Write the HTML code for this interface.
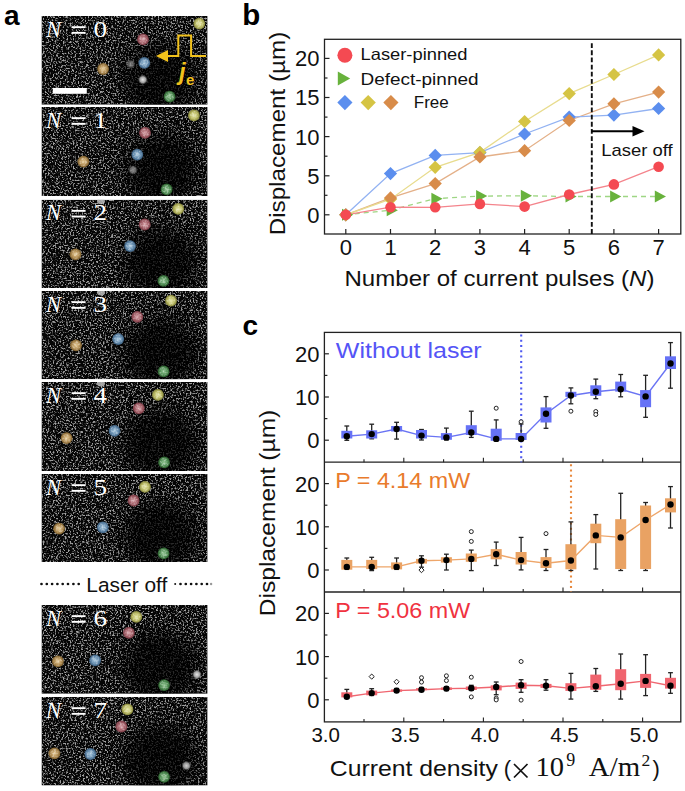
<!DOCTYPE html>
<html><head><meta charset="utf-8"><style>
html,body{margin:0;padding:0;background:#fff;}
svg{display:block;}
</style></head><body>
<svg width="685" height="791" viewBox="0 0 685 791">
<rect width="685" height="791" fill="#fff"/>
<defs>
<filter id="noise" x="0" y="0" width="100%" height="100%"><feTurbulence type="fractalNoise" baseFrequency="0.6" numOctaves="3" seed="3"/><feColorMatrix type="matrix" values="0 0 0 0 0  0 0 0 0 0  0 0 0 0 0  5 0 0 0 -2.5"/><feGaussianBlur stdDeviation="0.35"/><feComposite in="SourceGraphic" operator="in"/></filter>
<filter id="noise2" x="0" y="0" width="100%" height="100%"><feTurbulence type="fractalNoise" baseFrequency="0.55" numOctaves="1" seed="7"/><feColorMatrix type="matrix" values="0 0 0 0 0  0 0 0 0 0  0 0 0 0 0  4 0 0 0 -1.7"/><feComposite in="SourceGraphic" operator="in"/></filter>
<filter id="blur8" x="-50%" y="-50%" width="200%" height="200%"><feGaussianBlur stdDeviation="9"/></filter>
<filter id="blur12" x="-50%" y="-50%" width="200%" height="200%"><feGaussianBlur stdDeviation="14"/></filter>
<filter id="soft" x="-50%" y="-50%" width="200%" height="200%"><feGaussianBlur stdDeviation="0.7"/></filter>
<radialGradient id="gy" cx="0.5" cy="0.5" r="0.5"><stop offset="0" stop-color="#e6e6aa"/><stop offset="0.55" stop-color="#c0c068"/><stop offset="1" stop-color="#84843a"/></radialGradient>
<radialGradient id="gp" cx="0.5" cy="0.5" r="0.5"><stop offset="0" stop-color="#d8a4aa"/><stop offset="0.55" stop-color="#a8646c"/><stop offset="1" stop-color="#7a3a44"/></radialGradient>
<radialGradient id="gb" cx="0.5" cy="0.5" r="0.5"><stop offset="0" stop-color="#a8c8de"/><stop offset="0.55" stop-color="#6890b2"/><stop offset="1" stop-color="#3a5e80"/></radialGradient>
<radialGradient id="go" cx="0.5" cy="0.5" r="0.5"><stop offset="0" stop-color="#e6cc98"/><stop offset="0.55" stop-color="#b8945a"/><stop offset="1" stop-color="#7a5c2a"/></radialGradient>
<radialGradient id="gg" cx="0.5" cy="0.5" r="0.5"><stop offset="0" stop-color="#98c898"/><stop offset="0.55" stop-color="#56945a"/><stop offset="1" stop-color="#2a5e2c"/></radialGradient>
<radialGradient id="gw" cx="0.5" cy="0.5" r="0.5"><stop offset="0" stop-color="#e8e8e8"/><stop offset="0.6" stop-color="#a0a0a0"/><stop offset="1" stop-color="#505050" stop-opacity="0"/></radialGradient>
<clipPath id="cp0"><rect x="41.5" y="16" width="166.1" height="88.7"/></clipPath>
<clipPath id="cp1"><rect x="41.5" y="107" width="166.1" height="89.0"/></clipPath>
<clipPath id="cp2"><rect x="41.5" y="199.7" width="166.1" height="88.3"/></clipPath>
<clipPath id="cp3"><rect x="41.5" y="291" width="166.1" height="88.2"/></clipPath>
<clipPath id="cp4"><rect x="41.5" y="382" width="166.1" height="89.0"/></clipPath>
<clipPath id="cp5"><rect x="41.5" y="474" width="166.1" height="88.0"/></clipPath>
<clipPath id="cp6"><rect x="41.5" y="605" width="166.1" height="88.8"/></clipPath>
<clipPath id="cp7"><rect x="41.5" y="697" width="166.1" height="88.5"/></clipPath>
</defs>
<g clip-path="url(#cp0)">
<rect x="41.5" y="16" width="166.1" height="88.7" fill="#050505"/>
<rect x="41.5" y="16" width="166.1" height="88.7" fill="#a0a0a0" filter="url(#noise)"/>
<ellipse cx="160.5" cy="78" rx="38" ry="36" fill="#000" opacity="0.74" filter="url(#blur8)"/>
<circle cx="199.3" cy="23.6" r="5.9" fill="url(#gy)" filter="url(#soft)"/>
<circle cx="199.3" cy="23.6" r="4.5" fill="#fff" opacity="0.35" filter="url(#noise2)"/>
<circle cx="143" cy="39.4" r="5.9" fill="url(#gp)" filter="url(#soft)"/>
<circle cx="143" cy="39.4" r="4.5" fill="#fff" opacity="0.35" filter="url(#noise2)"/>
<circle cx="144.3" cy="62.9" r="5.9" fill="url(#gb)" filter="url(#soft)"/>
<circle cx="144.3" cy="62.9" r="4.5" fill="#fff" opacity="0.35" filter="url(#noise2)"/>
<circle cx="103.1" cy="69" r="5.9" fill="url(#go)" filter="url(#soft)"/>
<circle cx="103.1" cy="69" r="4.5" fill="#fff" opacity="0.35" filter="url(#noise2)"/>
<circle cx="169.6" cy="96.6" r="5.9" fill="url(#gg)" filter="url(#soft)"/>
<circle cx="169.6" cy="96.6" r="4.5" fill="#fff" opacity="0.35" filter="url(#noise2)"/>
<circle cx="142.8" cy="79.7" r="5" fill="url(#gw)" opacity="1"/>
<circle cx="130.7" cy="64.1" r="5" fill="url(#gw)" opacity="0.5"/>
</g>
<text y="36.6" font-size="22.5" fill="#fff" font-family='"Liberation Serif", serif' font-style="italic" x="46.1">N</text>
<rect x="71.6" y="26.2" width="14" height="1.9" fill="#fff"/><rect x="71.6" y="31.9" width="14" height="1.9" fill="#fff"/>
<text y="36.5" font-size="22.5" fill="#fff" font-family='"Liberation Serif", serif' x="93.6" textLength="13.6" lengthAdjust="spacingAndGlyphs">0</text>
<g clip-path="url(#cp1)">
<rect x="41.5" y="107" width="166.1" height="89.0" fill="#050505"/>
<rect x="41.5" y="107" width="166.1" height="89.0" fill="#a0a0a0" filter="url(#noise)"/>
<ellipse cx="160.5" cy="169" rx="38" ry="36" fill="#000" opacity="0.74" filter="url(#blur8)"/>
<circle cx="193.9" cy="115.4" r="5.9" fill="url(#gy)" filter="url(#soft)"/>
<circle cx="193.9" cy="115.4" r="4.5" fill="#fff" opacity="0.35" filter="url(#noise2)"/>
<circle cx="145" cy="132.8" r="5.9" fill="url(#gp)" filter="url(#soft)"/>
<circle cx="145" cy="132.8" r="4.5" fill="#fff" opacity="0.35" filter="url(#noise2)"/>
<circle cx="137.3" cy="154.6" r="5.9" fill="url(#gb)" filter="url(#soft)"/>
<circle cx="137.3" cy="154.6" r="4.5" fill="#fff" opacity="0.35" filter="url(#noise2)"/>
<circle cx="83.4" cy="161.6" r="5.9" fill="url(#go)" filter="url(#soft)"/>
<circle cx="83.4" cy="161.6" r="4.5" fill="#fff" opacity="0.35" filter="url(#noise2)"/>
<circle cx="166.6" cy="189.4" r="5.9" fill="url(#gg)" filter="url(#soft)"/>
<circle cx="166.6" cy="189.4" r="4.5" fill="#fff" opacity="0.35" filter="url(#noise2)"/>
<circle cx="133" cy="170" r="5" fill="url(#gw)" opacity="0.6"/>
</g>
<text y="127.6" font-size="22.5" fill="#fff" font-family='"Liberation Serif", serif' font-style="italic" x="46.1">N</text>
<rect x="71.6" y="117.2" width="14" height="1.9" fill="#fff"/><rect x="71.6" y="122.9" width="14" height="1.9" fill="#fff"/>
<text y="127.5" font-size="22.5" fill="#fff" font-family='"Liberation Serif", serif' x="93.6" textLength="13.6" lengthAdjust="spacingAndGlyphs">1</text>
<g clip-path="url(#cp2)">
<rect x="41.5" y="199.7" width="166.1" height="88.3" fill="#050505"/>
<rect x="41.5" y="199.7" width="166.1" height="88.3" fill="#a0a0a0" filter="url(#noise)"/>
<ellipse cx="160.5" cy="261.7" rx="38" ry="36" fill="#000" opacity="0.74" filter="url(#blur8)"/>
<circle cx="178.2" cy="208.9" r="5.9" fill="url(#gy)" filter="url(#soft)"/>
<circle cx="178.2" cy="208.9" r="4.5" fill="#fff" opacity="0.35" filter="url(#noise2)"/>
<circle cx="144.7" cy="224.5" r="5.9" fill="url(#gp)" filter="url(#soft)"/>
<circle cx="144.7" cy="224.5" r="4.5" fill="#fff" opacity="0.35" filter="url(#noise2)"/>
<circle cx="130.1" cy="246.1" r="5.9" fill="url(#gb)" filter="url(#soft)"/>
<circle cx="130.1" cy="246.1" r="4.5" fill="#fff" opacity="0.35" filter="url(#noise2)"/>
<circle cx="75.5" cy="254.3" r="5.9" fill="url(#go)" filter="url(#soft)"/>
<circle cx="75.5" cy="254.3" r="4.5" fill="#fff" opacity="0.35" filter="url(#noise2)"/>
<circle cx="163.4" cy="280.9" r="5.9" fill="url(#gg)" filter="url(#soft)"/>
<circle cx="163.4" cy="280.9" r="4.5" fill="#fff" opacity="0.35" filter="url(#noise2)"/>
<ellipse cx="101" cy="201.2" rx="4" ry="3" fill="#c8c8c8" opacity="0.8" filter="url(#soft)"/>
</g>
<text y="220.29999999999998" font-size="22.5" fill="#fff" font-family='"Liberation Serif", serif' font-style="italic" x="46.1">N</text>
<rect x="71.6" y="209.9" width="14" height="1.9" fill="#fff"/><rect x="71.6" y="215.6" width="14" height="1.9" fill="#fff"/>
<text y="220.2" font-size="22.5" fill="#fff" font-family='"Liberation Serif", serif' x="93.6" textLength="13.6" lengthAdjust="spacingAndGlyphs">2</text>
<g clip-path="url(#cp3)">
<rect x="41.5" y="291" width="166.1" height="88.2" fill="#050505"/>
<rect x="41.5" y="291" width="166.1" height="88.2" fill="#a0a0a0" filter="url(#noise)"/>
<ellipse cx="160.5" cy="353" rx="38" ry="36" fill="#000" opacity="0.74" filter="url(#blur8)"/>
<circle cx="171" cy="300.7" r="5.9" fill="url(#gy)" filter="url(#soft)"/>
<circle cx="171" cy="300.7" r="4.5" fill="#fff" opacity="0.35" filter="url(#noise2)"/>
<circle cx="137.3" cy="316.8" r="5.9" fill="url(#gp)" filter="url(#soft)"/>
<circle cx="137.3" cy="316.8" r="4.5" fill="#fff" opacity="0.35" filter="url(#noise2)"/>
<circle cx="118.2" cy="339.1" r="5.9" fill="url(#gb)" filter="url(#soft)"/>
<circle cx="118.2" cy="339.1" r="4.5" fill="#fff" opacity="0.35" filter="url(#noise2)"/>
<circle cx="76" cy="345.3" r="5.9" fill="url(#go)" filter="url(#soft)"/>
<circle cx="76" cy="345.3" r="4.5" fill="#fff" opacity="0.35" filter="url(#noise2)"/>
<circle cx="163.6" cy="371.4" r="5.9" fill="url(#gg)" filter="url(#soft)"/>
<circle cx="163.6" cy="371.4" r="4.5" fill="#fff" opacity="0.35" filter="url(#noise2)"/>
<ellipse cx="101" cy="292.5" rx="4" ry="3" fill="#c8c8c8" opacity="0.8" filter="url(#soft)"/>
</g>
<text y="311.6" font-size="22.5" fill="#fff" font-family='"Liberation Serif", serif' font-style="italic" x="46.1">N</text>
<rect x="71.6" y="301.2" width="14" height="1.9" fill="#fff"/><rect x="71.6" y="306.9" width="14" height="1.9" fill="#fff"/>
<text y="311.5" font-size="22.5" fill="#fff" font-family='"Liberation Serif", serif' x="93.6" textLength="13.6" lengthAdjust="spacingAndGlyphs">3</text>
<g clip-path="url(#cp4)">
<rect x="41.5" y="382" width="166.1" height="89.0" fill="#050505"/>
<rect x="41.5" y="382" width="166.1" height="89.0" fill="#a0a0a0" filter="url(#noise)"/>
<ellipse cx="160.5" cy="444" rx="38" ry="36" fill="#000" opacity="0.74" filter="url(#blur8)"/>
<circle cx="157.9" cy="394.9" r="5.9" fill="url(#gy)" filter="url(#soft)"/>
<circle cx="157.9" cy="394.9" r="4.5" fill="#fff" opacity="0.35" filter="url(#noise2)"/>
<circle cx="138.8" cy="408.3" r="5.9" fill="url(#gp)" filter="url(#soft)"/>
<circle cx="138.8" cy="408.3" r="4.5" fill="#fff" opacity="0.35" filter="url(#noise2)"/>
<circle cx="114.5" cy="430.9" r="5.9" fill="url(#gb)" filter="url(#soft)"/>
<circle cx="114.5" cy="430.9" r="4.5" fill="#fff" opacity="0.35" filter="url(#noise2)"/>
<circle cx="66.6" cy="438.1" r="5.9" fill="url(#go)" filter="url(#soft)"/>
<circle cx="66.6" cy="438.1" r="4.5" fill="#fff" opacity="0.35" filter="url(#noise2)"/>
<circle cx="164.1" cy="462.4" r="5.9" fill="url(#gg)" filter="url(#soft)"/>
<circle cx="164.1" cy="462.4" r="4.5" fill="#fff" opacity="0.35" filter="url(#noise2)"/>
<ellipse cx="101" cy="383.5" rx="4" ry="3" fill="#c8c8c8" opacity="0.8" filter="url(#soft)"/>
</g>
<text y="402.6" font-size="22.5" fill="#fff" font-family='"Liberation Serif", serif' font-style="italic" x="46.1">N</text>
<rect x="71.6" y="392.2" width="14" height="1.9" fill="#fff"/><rect x="71.6" y="397.9" width="14" height="1.9" fill="#fff"/>
<text y="402.5" font-size="22.5" fill="#fff" font-family='"Liberation Serif", serif' x="93.6" textLength="13.6" lengthAdjust="spacingAndGlyphs">4</text>
<g clip-path="url(#cp5)">
<rect x="41.5" y="474" width="166.1" height="88.0" fill="#050505"/>
<rect x="41.5" y="474" width="166.1" height="88.0" fill="#a0a0a0" filter="url(#noise)"/>
<ellipse cx="160.5" cy="536" rx="38" ry="36" fill="#000" opacity="0.74" filter="url(#blur8)"/>
<circle cx="145" cy="486.9" r="5.9" fill="url(#gy)" filter="url(#soft)"/>
<circle cx="145" cy="486.9" r="4.5" fill="#fff" opacity="0.35" filter="url(#noise2)"/>
<circle cx="133.6" cy="500.5" r="5.9" fill="url(#gp)" filter="url(#soft)"/>
<circle cx="133.6" cy="500.5" r="4.5" fill="#fff" opacity="0.35" filter="url(#noise2)"/>
<circle cx="102.8" cy="527.3" r="5.9" fill="url(#gb)" filter="url(#soft)"/>
<circle cx="102.8" cy="527.3" r="4.5" fill="#fff" opacity="0.35" filter="url(#noise2)"/>
<circle cx="59.1" cy="528.6" r="5.9" fill="url(#go)" filter="url(#soft)"/>
<circle cx="59.1" cy="528.6" r="4.5" fill="#fff" opacity="0.35" filter="url(#noise2)"/>
<circle cx="163.6" cy="553.4" r="5.9" fill="url(#gg)" filter="url(#soft)"/>
<circle cx="163.6" cy="553.4" r="4.5" fill="#fff" opacity="0.35" filter="url(#noise2)"/>
</g>
<text y="494.6" font-size="22.5" fill="#fff" font-family='"Liberation Serif", serif' font-style="italic" x="46.1">N</text>
<rect x="71.6" y="484.2" width="14" height="1.9" fill="#fff"/><rect x="71.6" y="489.9" width="14" height="1.9" fill="#fff"/>
<text y="494.5" font-size="22.5" fill="#fff" font-family='"Liberation Serif", serif' x="93.6" textLength="13.6" lengthAdjust="spacingAndGlyphs">5</text>
<g clip-path="url(#cp6)">
<rect x="41.5" y="605" width="166.1" height="88.8" fill="#050505"/>
<rect x="41.5" y="605" width="166.1" height="88.8" fill="#a0a0a0" filter="url(#noise)"/>
<ellipse cx="160.5" cy="667" rx="38" ry="36" fill="#000" opacity="0.74" filter="url(#blur8)"/>
<circle cx="136.3" cy="616.9" r="5.9" fill="url(#gy)" filter="url(#soft)"/>
<circle cx="136.3" cy="616.9" r="4.5" fill="#fff" opacity="0.35" filter="url(#noise2)"/>
<circle cx="128.9" cy="632.8" r="5.9" fill="url(#gp)" filter="url(#soft)"/>
<circle cx="128.9" cy="632.8" r="4.5" fill="#fff" opacity="0.35" filter="url(#noise2)"/>
<circle cx="95.1" cy="660.3" r="5.9" fill="url(#gb)" filter="url(#soft)"/>
<circle cx="95.1" cy="660.3" r="4.5" fill="#fff" opacity="0.35" filter="url(#noise2)"/>
<circle cx="57.9" cy="661.3" r="5.9" fill="url(#go)" filter="url(#soft)"/>
<circle cx="57.9" cy="661.3" r="4.5" fill="#fff" opacity="0.35" filter="url(#noise2)"/>
<circle cx="164.1" cy="685.1" r="5.9" fill="url(#gg)" filter="url(#soft)"/>
<circle cx="164.1" cy="685.1" r="4.5" fill="#fff" opacity="0.35" filter="url(#noise2)"/>
<circle cx="196.9" cy="674.5" r="5" fill="url(#gw)" opacity="1"/>
</g>
<text y="625.6" font-size="22.5" fill="#fff" font-family='"Liberation Serif", serif' font-style="italic" x="46.1">N</text>
<rect x="71.6" y="615.2" width="14" height="1.9" fill="#fff"/><rect x="71.6" y="620.9" width="14" height="1.9" fill="#fff"/>
<text y="625.5" font-size="22.5" fill="#fff" font-family='"Liberation Serif", serif' x="93.6" textLength="13.6" lengthAdjust="spacingAndGlyphs">6</text>
<g clip-path="url(#cp7)">
<rect x="41.5" y="697" width="166.1" height="88.5" fill="#050505"/>
<rect x="41.5" y="697" width="166.1" height="88.5" fill="#a0a0a0" filter="url(#noise)"/>
<ellipse cx="160.5" cy="759" rx="38" ry="36" fill="#000" opacity="0.74" filter="url(#blur8)"/>
<circle cx="127.4" cy="709.4" r="5.9" fill="url(#gy)" filter="url(#soft)"/>
<circle cx="127.4" cy="709.4" r="4.5" fill="#fff" opacity="0.35" filter="url(#noise2)"/>
<circle cx="121.4" cy="726.5" r="5.9" fill="url(#gp)" filter="url(#soft)"/>
<circle cx="121.4" cy="726.5" r="4.5" fill="#fff" opacity="0.35" filter="url(#noise2)"/>
<circle cx="90.4" cy="754" r="5.9" fill="url(#gb)" filter="url(#soft)"/>
<circle cx="90.4" cy="754" r="4.5" fill="#fff" opacity="0.35" filter="url(#noise2)"/>
<circle cx="54.4" cy="753.3" r="5.9" fill="url(#go)" filter="url(#soft)"/>
<circle cx="54.4" cy="753.3" r="4.5" fill="#fff" opacity="0.35" filter="url(#noise2)"/>
<circle cx="164.1" cy="776.8" r="5.9" fill="url(#gg)" filter="url(#soft)"/>
<circle cx="164.1" cy="776.8" r="4.5" fill="#fff" opacity="0.35" filter="url(#noise2)"/>
<circle cx="186.4" cy="765.7" r="5" fill="url(#gw)" opacity="0.9"/>
</g>
<text y="717.6" font-size="22.5" fill="#fff" font-family='"Liberation Serif", serif' font-style="italic" x="46.1">N</text>
<rect x="71.6" y="707.2" width="14" height="1.9" fill="#fff"/><rect x="71.6" y="712.9" width="14" height="1.9" fill="#fff"/>
<text y="717.5" font-size="22.5" fill="#fff" font-family='"Liberation Serif", serif' x="93.6" textLength="13.6" lengthAdjust="spacingAndGlyphs">7</text>
<rect x="52.8" y="88" width="34" height="5.8" fill="#fff"/>
<path d="M206 56 H191.1 V35.5 H178.3 V56 H165" fill="none" stroke="#f2c21c" stroke-width="2"/>
<path d="M156 56 L168 50 L168 62 Z" fill="#f2c21c"/>
<text x="179" y="79.8" font-size="23.5" fill="#f2c21c" font-family='"Liberation Sans", sans-serif' font-style="italic" font-weight="bold">j</text>
<text x="186" y="84.8" font-size="15" fill="#f2c21c" font-family='"Liberation Sans", sans-serif' font-weight="bold">e</text>
<circle cx="41.5" cy="584" r="1.35" fill="#111"/>
<circle cx="46.8" cy="584" r="1.35" fill="#111"/>
<circle cx="52.1" cy="584" r="1.35" fill="#111"/>
<circle cx="57.4" cy="584" r="1.35" fill="#111"/>
<circle cx="62.7" cy="584" r="1.35" fill="#111"/>
<circle cx="68.0" cy="584" r="1.35" fill="#111"/>
<circle cx="73.4" cy="584" r="1.35" fill="#111"/>
<circle cx="78.7" cy="584" r="1.35" fill="#111"/>
<circle cx="175.2" cy="584" r="1.0" fill="#111"/>
<circle cx="180.5" cy="584" r="1.35" fill="#111"/>
<circle cx="185.8" cy="584" r="1.35" fill="#111"/>
<circle cx="191.1" cy="584" r="1.35" fill="#111"/>
<circle cx="196.4" cy="584" r="1.35" fill="#111"/>
<circle cx="201.7" cy="584" r="1.35" fill="#111"/>
<circle cx="207.0" cy="584" r="1.35" fill="#111"/>
<circle cx="211.1" cy="584" r="1.2" fill="#999"/>
<text x="86.3" y="591.8" font-size="20.5" fill="#111" text-anchor="start" font-family='"Liberation Sans", sans-serif' font-weight="normal" font-style="normal" textLength="81" lengthAdjust="spacingAndGlyphs" >Laser off</text>
<text x="4.0" y="24.5" font-size="28" fill="#000" text-anchor="start" font-family='"Liberation Sans", sans-serif' font-weight="bold" font-style="normal" >a</text>
<text x="242.3" y="24.5" font-size="29.5" fill="#000" text-anchor="start" font-family='"Liberation Sans", sans-serif' font-weight="bold" font-style="normal" >b</text>
<text x="242.5" y="334.5" font-size="28" fill="#000" text-anchor="start" font-family='"Liberation Sans", sans-serif' font-weight="bold" font-style="normal" >c</text>
<rect x="324.5" y="39.3" width="356.3" height="194.7" fill="none" stroke="#222" stroke-width="1.3"/>
<line x1="324.5" x2="329.5" y1="214.8" y2="214.8" stroke="#222" stroke-width="1.2"/>
<text x="319.5" y="222.8" font-size="22" fill="#111" text-anchor="end" font-family='"Liberation Sans", sans-serif' font-weight="normal" font-style="normal" >0</text>
<line x1="324.5" x2="329.5" y1="175.8" y2="175.8" stroke="#222" stroke-width="1.2"/>
<text x="319.5" y="183.7" font-size="22" fill="#111" text-anchor="end" font-family='"Liberation Sans", sans-serif' font-weight="normal" font-style="normal" >5</text>
<line x1="324.5" x2="329.5" y1="136.6" y2="136.6" stroke="#222" stroke-width="1.2"/>
<text x="319.5" y="144.5" font-size="22" fill="#111" text-anchor="end" font-family='"Liberation Sans", sans-serif' font-weight="normal" font-style="normal" >10</text>
<line x1="324.5" x2="329.5" y1="97.5" y2="97.5" stroke="#222" stroke-width="1.2"/>
<text x="319.5" y="105.4" font-size="22" fill="#111" text-anchor="end" font-family='"Liberation Sans", sans-serif' font-weight="normal" font-style="normal" >15</text>
<line x1="324.5" x2="329.5" y1="58.4" y2="58.4" stroke="#222" stroke-width="1.2"/>
<text x="319.5" y="66.3" font-size="22" fill="#111" text-anchor="end" font-family='"Liberation Sans", sans-serif' font-weight="normal" font-style="normal" >20</text>
<line x1="324.5" x2="327.5" y1="195.3" y2="195.3" stroke="#222" stroke-width="1.2"/>
<line x1="324.5" x2="327.5" y1="156.2" y2="156.2" stroke="#222" stroke-width="1.2"/>
<line x1="324.5" x2="327.5" y1="117.1" y2="117.1" stroke="#222" stroke-width="1.2"/>
<line x1="324.5" x2="327.5" y1="78.0" y2="78.0" stroke="#222" stroke-width="1.2"/>
<line x1="345.8" x2="345.8" y1="234.0" y2="229.0" stroke="#222" stroke-width="1.2"/>
<text x="345.8" y="254.8" font-size="22" fill="#111" text-anchor="middle" font-family='"Liberation Sans", sans-serif' font-weight="normal" font-style="normal" >0</text>
<line x1="390.5" x2="390.5" y1="234.0" y2="229.0" stroke="#222" stroke-width="1.2"/>
<text x="390.5" y="254.8" font-size="22" fill="#111" text-anchor="middle" font-family='"Liberation Sans", sans-serif' font-weight="normal" font-style="normal" >1</text>
<line x1="435.2" x2="435.2" y1="234.0" y2="229.0" stroke="#222" stroke-width="1.2"/>
<text x="435.2" y="254.8" font-size="22" fill="#111" text-anchor="middle" font-family='"Liberation Sans", sans-serif' font-weight="normal" font-style="normal" >2</text>
<line x1="479.9" x2="479.9" y1="234.0" y2="229.0" stroke="#222" stroke-width="1.2"/>
<text x="479.9" y="254.8" font-size="22" fill="#111" text-anchor="middle" font-family='"Liberation Sans", sans-serif' font-weight="normal" font-style="normal" >3</text>
<line x1="524.6" x2="524.6" y1="234.0" y2="229.0" stroke="#222" stroke-width="1.2"/>
<text x="524.6" y="254.8" font-size="22" fill="#111" text-anchor="middle" font-family='"Liberation Sans", sans-serif' font-weight="normal" font-style="normal" >4</text>
<line x1="569.2" x2="569.2" y1="234.0" y2="229.0" stroke="#222" stroke-width="1.2"/>
<text x="569.2" y="254.8" font-size="22" fill="#111" text-anchor="middle" font-family='"Liberation Sans", sans-serif' font-weight="normal" font-style="normal" >5</text>
<line x1="613.9" x2="613.9" y1="234.0" y2="229.0" stroke="#222" stroke-width="1.2"/>
<text x="613.9" y="254.8" font-size="22" fill="#111" text-anchor="middle" font-family='"Liberation Sans", sans-serif' font-weight="normal" font-style="normal" >6</text>
<line x1="658.6" x2="658.6" y1="234.0" y2="229.0" stroke="#222" stroke-width="1.2"/>
<text x="658.6" y="254.8" font-size="22" fill="#111" text-anchor="middle" font-family='"Liberation Sans", sans-serif' font-weight="normal" font-style="normal" >7</text>
<text x="344.5" y="285.6" font-size="21.5" fill="#111" font-family='"Liberation Sans", sans-serif' textLength="310" lengthAdjust="spacingAndGlyphs">Number of current pulses (<tspan font-style="italic">N</tspan>)</text>
<text transform="translate(285.2,235.3) rotate(-90)" x="0" y="0" font-size="21.5" fill="#111" font-family='"Liberation Sans", sans-serif' textLength="203.5" lengthAdjust="spacingAndGlyphs">Displacement (µm)</text>
<polyline points="345.8,214.8 390.5,210.2 435.2,198.7 479.9,196.1 524.6,195.8 569.2,196.5 613.9,196.5 658.6,196.5" fill="none" stroke="#9ed684" stroke-width="1.3" stroke-dasharray="5 4"/>
<polyline points="345.8,214.8 390.5,207.2 435.2,207.3 479.9,203.9 524.6,206.6 569.2,194.5 613.9,184.4 658.6,166.7" fill="none" stroke="#f4848c" stroke-width="1.3"/>
<polyline points="345.8,214.8 390.5,197.9 435.2,183.6 479.9,157.0 524.6,150.7 569.2,120.5 613.9,103.8 658.6,92.1" fill="none" stroke="#e4b088" stroke-width="1.3"/>
<polyline points="345.8,214.8 390.5,199.2 435.2,167.3 479.9,152.3 524.6,121.5 569.2,93.6 613.9,74.5 658.6,54.9" fill="none" stroke="#e8dc8e" stroke-width="1.3"/>
<polyline points="345.8,214.8 390.5,173.6 435.2,155.4 479.9,152.7 524.6,134.0 569.2,117.1 613.9,115.1 658.6,108.5" fill="none" stroke="#92b2f2" stroke-width="1.3"/>
<path d="M345.8 208.2 L352.4 214.8 L345.8 221.4 L339.2 214.8 Z" fill="#5b8eee"/>
<path d="M390.5 167.0 L397.1 173.6 L390.5 180.2 L383.9 173.6 Z" fill="#5b8eee"/>
<path d="M435.2 148.8 L441.8 155.4 L435.2 162.0 L428.6 155.4 Z" fill="#5b8eee"/>
<path d="M479.9 146.1 L486.5 152.7 L479.9 159.3 L473.3 152.7 Z" fill="#5b8eee"/>
<path d="M524.6 127.4 L531.2 134.0 L524.6 140.6 L518.0 134.0 Z" fill="#5b8eee"/>
<path d="M569.2 110.5 L575.9 117.1 L569.2 123.7 L562.6 117.1 Z" fill="#5b8eee"/>
<path d="M613.9 108.5 L620.5 115.1 L613.9 121.7 L607.3 115.1 Z" fill="#5b8eee"/>
<path d="M658.6 101.9 L665.2 108.5 L658.6 115.1 L652.0 108.5 Z" fill="#5b8eee"/>
<path d="M345.8 208.2 L352.4 214.8 L345.8 221.4 L339.2 214.8 Z" fill="#d5c444"/>
<path d="M390.5 192.6 L397.1 199.2 L390.5 205.8 L383.9 199.2 Z" fill="#d5c444"/>
<path d="M435.2 160.7 L441.8 167.3 L435.2 173.9 L428.6 167.3 Z" fill="#d5c444"/>
<path d="M479.9 145.7 L486.5 152.3 L479.9 158.9 L473.3 152.3 Z" fill="#d5c444"/>
<path d="M524.6 114.9 L531.2 121.5 L524.6 128.1 L518.0 121.5 Z" fill="#d5c444"/>
<path d="M569.2 87.0 L575.9 93.6 L569.2 100.2 L562.6 93.6 Z" fill="#d5c444"/>
<path d="M613.9 67.9 L620.5 74.5 L613.9 81.1 L607.3 74.5 Z" fill="#d5c444"/>
<path d="M658.6 48.3 L665.2 54.9 L658.6 61.5 L652.0 54.9 Z" fill="#d5c444"/>
<path d="M345.8 208.2 L352.4 214.8 L345.8 221.4 L339.2 214.8 Z" fill="#d88c4a"/>
<path d="M390.5 191.3 L397.1 197.9 L390.5 204.5 L383.9 197.9 Z" fill="#d88c4a"/>
<path d="M435.2 177.0 L441.8 183.6 L435.2 190.2 L428.6 183.6 Z" fill="#d88c4a"/>
<path d="M479.9 150.4 L486.5 157.0 L479.9 163.6 L473.3 157.0 Z" fill="#d88c4a"/>
<path d="M524.6 144.1 L531.2 150.7 L524.6 157.3 L518.0 150.7 Z" fill="#d88c4a"/>
<path d="M569.2 113.9 L575.9 120.5 L569.2 127.1 L562.6 120.5 Z" fill="#d88c4a"/>
<path d="M613.9 97.2 L620.5 103.8 L613.9 110.4 L607.3 103.8 Z" fill="#d88c4a"/>
<path d="M658.6 85.5 L665.2 92.1 L658.6 98.7 L652.0 92.1 Z" fill="#d88c4a"/>
<path d="M342.0 208.8 L353.2 214.8 L342.0 220.8 Z" fill="#68b23c"/>
<path d="M386.7 204.2 L397.9 210.2 L386.7 216.2 Z" fill="#68b23c"/>
<path d="M431.4 192.7 L442.6 198.7 L431.4 204.7 Z" fill="#68b23c"/>
<path d="M476.1 190.1 L487.3 196.1 L476.1 202.1 Z" fill="#68b23c"/>
<path d="M520.8 189.8 L532.0 195.8 L520.8 201.8 Z" fill="#68b23c"/>
<path d="M565.5 190.5 L576.6 196.5 L565.5 202.5 Z" fill="#68b23c"/>
<path d="M610.1 190.5 L621.3 196.5 L610.1 202.5 Z" fill="#68b23c"/>
<path d="M654.8 190.5 L666.0 196.5 L654.8 202.5 Z" fill="#68b23c"/>
<circle cx="345.8" cy="214.8" r="5.3" fill="#f44a52"/>
<circle cx="390.5" cy="207.2" r="5.3" fill="#f44a52"/>
<circle cx="435.2" cy="207.3" r="5.3" fill="#f44a52"/>
<circle cx="479.9" cy="203.9" r="5.3" fill="#f44a52"/>
<circle cx="524.6" cy="206.6" r="5.3" fill="#f44a52"/>
<circle cx="569.2" cy="194.5" r="5.3" fill="#f44a52"/>
<circle cx="613.9" cy="184.4" r="5.3" fill="#f44a52"/>
<circle cx="658.6" cy="166.7" r="5.3" fill="#f44a52"/>
<circle cx="344.9" cy="55.2" r="7.5" fill="#f44a52"/>
<path d="M337.8 71.5 L350.2 78.5 L337.8 85.5 Z" fill="#68b23c"/>
<path d="M344.9 95.0 L352.5 102.6 L344.9 110.2 L337.3 102.6 Z" fill="#5b8eee"/>
<path d="M368.2 95.0 L375.8 102.6 L368.2 110.2 L360.6 102.6 Z" fill="#d5c444"/>
<path d="M390.9 95.0 L398.5 102.6 L390.9 110.2 L383.3 102.6 Z" fill="#d88c4a"/>
<text x="360.5" y="59.6" font-size="16.5" fill="#111" text-anchor="start" font-family='"Liberation Sans", sans-serif' font-weight="normal" font-style="normal" textLength="107" lengthAdjust="spacingAndGlyphs" >Laser-pinned</text>
<text x="360.5" y="84.6" font-size="16.5" fill="#111" text-anchor="start" font-family='"Liberation Sans", sans-serif' font-weight="normal" font-style="normal" textLength="118" lengthAdjust="spacingAndGlyphs" >Defect-pinned</text>
<text x="413.8" y="107.8" font-size="16.5" fill="#111" text-anchor="start" font-family='"Liberation Sans", sans-serif' font-weight="normal" font-style="normal" textLength="35" lengthAdjust="spacingAndGlyphs" >Free</text>
<line x1="591.8" x2="591.8" y1="43.2" y2="234.0" stroke="#111" stroke-width="1.9" stroke-dasharray="4.8 2.35"/>
<line x1="591.5" x2="634" y1="131.3" y2="131.3" stroke="#000" stroke-width="2"/>
<path d="M644.5 131.3 L632.5 126 L632.5 136.6 Z" fill="#000"/>
<text x="601.2" y="156.0" font-size="17" fill="#111" text-anchor="start" font-family='"Liberation Sans", sans-serif' font-weight="normal" font-style="normal" textLength="71.5" lengthAdjust="spacingAndGlyphs" >Laser off</text>
<rect x="324.4" y="332.4" width="356.4" height="389.5" fill="none" stroke="#222" stroke-width="1.3"/>
<line x1="324.4" x2="680.8" y1="462.2" y2="462.2" stroke="#222" stroke-width="1.3"/>
<line x1="324.4" x2="680.8" y1="592.0" y2="592.0" stroke="#222" stroke-width="1.3"/>
<line x1="324.4" x2="328.9" y1="440.2" y2="440.2" stroke="#222" stroke-width="1.2"/>
<text x="319.5" y="448.1" font-size="22" fill="#111" text-anchor="end" font-family='"Liberation Sans", sans-serif' font-weight="normal" font-style="normal" >0</text>
<line x1="324.4" x2="328.9" y1="397.0" y2="397.0" stroke="#222" stroke-width="1.2"/>
<text x="319.5" y="404.9" font-size="22" fill="#111" text-anchor="end" font-family='"Liberation Sans", sans-serif' font-weight="normal" font-style="normal" >10</text>
<line x1="324.4" x2="328.9" y1="353.8" y2="353.8" stroke="#222" stroke-width="1.2"/>
<text x="319.5" y="361.7" font-size="22" fill="#111" text-anchor="end" font-family='"Liberation Sans", sans-serif' font-weight="normal" font-style="normal" >20</text>
<line x1="324.4" x2="327.4" y1="418.6" y2="418.6" stroke="#222" stroke-width="1.2"/>
<line x1="324.4" x2="327.4" y1="375.4" y2="375.4" stroke="#222" stroke-width="1.2"/>
<line x1="364.0" x2="364.0" y1="462.2" y2="459.2" stroke="#222" stroke-width="1.1"/>
<line x1="403.8" x2="403.8" y1="462.2" y2="457.7" stroke="#222" stroke-width="1.1"/>
<line x1="443.6" x2="443.6" y1="462.2" y2="459.2" stroke="#222" stroke-width="1.1"/>
<line x1="483.4" x2="483.4" y1="462.2" y2="457.7" stroke="#222" stroke-width="1.1"/>
<line x1="523.2" x2="523.2" y1="462.2" y2="459.2" stroke="#222" stroke-width="1.1"/>
<line x1="563.0" x2="563.0" y1="462.2" y2="457.7" stroke="#222" stroke-width="1.1"/>
<line x1="602.8" x2="602.8" y1="462.2" y2="459.2" stroke="#222" stroke-width="1.1"/>
<line x1="642.6" x2="642.6" y1="462.2" y2="457.7" stroke="#222" stroke-width="1.1"/>
<line x1="324.4" x2="328.9" y1="570.0" y2="570.0" stroke="#222" stroke-width="1.2"/>
<text x="319.5" y="577.9" font-size="22" fill="#111" text-anchor="end" font-family='"Liberation Sans", sans-serif' font-weight="normal" font-style="normal" >0</text>
<line x1="324.4" x2="328.9" y1="526.8" y2="526.8" stroke="#222" stroke-width="1.2"/>
<text x="319.5" y="534.7" font-size="22" fill="#111" text-anchor="end" font-family='"Liberation Sans", sans-serif' font-weight="normal" font-style="normal" >10</text>
<line x1="324.4" x2="328.9" y1="483.6" y2="483.6" stroke="#222" stroke-width="1.2"/>
<text x="319.5" y="491.5" font-size="22" fill="#111" text-anchor="end" font-family='"Liberation Sans", sans-serif' font-weight="normal" font-style="normal" >20</text>
<line x1="324.4" x2="327.4" y1="548.4" y2="548.4" stroke="#222" stroke-width="1.2"/>
<line x1="324.4" x2="327.4" y1="505.2" y2="505.2" stroke="#222" stroke-width="1.2"/>
<line x1="364.0" x2="364.0" y1="592.0" y2="589.0" stroke="#222" stroke-width="1.1"/>
<line x1="403.8" x2="403.8" y1="592.0" y2="587.5" stroke="#222" stroke-width="1.1"/>
<line x1="443.6" x2="443.6" y1="592.0" y2="589.0" stroke="#222" stroke-width="1.1"/>
<line x1="483.4" x2="483.4" y1="592.0" y2="587.5" stroke="#222" stroke-width="1.1"/>
<line x1="523.2" x2="523.2" y1="592.0" y2="589.0" stroke="#222" stroke-width="1.1"/>
<line x1="563.0" x2="563.0" y1="592.0" y2="587.5" stroke="#222" stroke-width="1.1"/>
<line x1="602.8" x2="602.8" y1="592.0" y2="589.0" stroke="#222" stroke-width="1.1"/>
<line x1="642.6" x2="642.6" y1="592.0" y2="587.5" stroke="#222" stroke-width="1.1"/>
<line x1="324.4" x2="328.9" y1="699.8" y2="699.8" stroke="#222" stroke-width="1.2"/>
<text x="319.5" y="707.7" font-size="22" fill="#111" text-anchor="end" font-family='"Liberation Sans", sans-serif' font-weight="normal" font-style="normal" >0</text>
<line x1="324.4" x2="328.9" y1="656.6" y2="656.6" stroke="#222" stroke-width="1.2"/>
<text x="319.5" y="664.5" font-size="22" fill="#111" text-anchor="end" font-family='"Liberation Sans", sans-serif' font-weight="normal" font-style="normal" >10</text>
<line x1="324.4" x2="328.9" y1="613.4" y2="613.4" stroke="#222" stroke-width="1.2"/>
<text x="319.5" y="621.3" font-size="22" fill="#111" text-anchor="end" font-family='"Liberation Sans", sans-serif' font-weight="normal" font-style="normal" >20</text>
<line x1="324.4" x2="327.4" y1="678.2" y2="678.2" stroke="#222" stroke-width="1.2"/>
<line x1="324.4" x2="327.4" y1="635.0" y2="635.0" stroke="#222" stroke-width="1.2"/>
<line x1="364.0" x2="364.0" y1="721.9" y2="718.9" stroke="#222" stroke-width="1.1"/>
<line x1="403.8" x2="403.8" y1="721.9" y2="717.4" stroke="#222" stroke-width="1.1"/>
<line x1="443.6" x2="443.6" y1="721.9" y2="718.9" stroke="#222" stroke-width="1.1"/>
<line x1="483.4" x2="483.4" y1="721.9" y2="717.4" stroke="#222" stroke-width="1.1"/>
<line x1="523.2" x2="523.2" y1="721.9" y2="718.9" stroke="#222" stroke-width="1.1"/>
<line x1="563.0" x2="563.0" y1="721.9" y2="717.4" stroke="#222" stroke-width="1.1"/>
<line x1="602.8" x2="602.8" y1="721.9" y2="718.9" stroke="#222" stroke-width="1.1"/>
<line x1="642.6" x2="642.6" y1="721.9" y2="717.4" stroke="#222" stroke-width="1.1"/>
<text x="325.7" y="742.3" font-size="21" fill="#111" text-anchor="middle" font-family='"Liberation Sans", sans-serif' font-weight="normal" font-style="normal" textLength="28.5" lengthAdjust="spacingAndGlyphs" >3.0</text>
<text x="405.3" y="742.3" font-size="21" fill="#111" text-anchor="middle" font-family='"Liberation Sans", sans-serif' font-weight="normal" font-style="normal" textLength="28.5" lengthAdjust="spacingAndGlyphs" >3.5</text>
<text x="484.9" y="742.3" font-size="21" fill="#111" text-anchor="middle" font-family='"Liberation Sans", sans-serif' font-weight="normal" font-style="normal" textLength="28.5" lengthAdjust="spacingAndGlyphs" >4.0</text>
<text x="564.5" y="742.3" font-size="21" fill="#111" text-anchor="middle" font-family='"Liberation Sans", sans-serif' font-weight="normal" font-style="normal" textLength="28.5" lengthAdjust="spacingAndGlyphs" >4.5</text>
<text x="644.1" y="742.3" font-size="21" fill="#111" text-anchor="middle" font-family='"Liberation Sans", sans-serif' font-weight="normal" font-style="normal" textLength="28.5" lengthAdjust="spacingAndGlyphs" >5.0</text>
<text x="329.8" y="775.8" font-size="22" fill="#111" text-anchor="start" font-family='"Liberation Sans", sans-serif' font-weight="normal" font-style="normal" textLength="168" lengthAdjust="spacingAndGlyphs" >Current density</text>
<text x="503.8" y="775.8" font-size="22" fill="#111" text-anchor="start" font-family='"Liberation Sans", sans-serif' font-weight="normal" font-style="normal" >(</text>
<path d="M514 764 L527.5 777.5 M527.5 764 L514 777.5" stroke="#111" stroke-width="1.7"/>
<text x="535.6" y="776.2" font-size="26.5" fill="#111" text-anchor="start" font-family='"Liberation Serif", serif' font-weight="normal" font-style="normal" textLength="28.5" lengthAdjust="spacingAndGlyphs" >10</text>
<text x="566.2" y="766.3" font-size="18" fill="#111" text-anchor="start" font-family='"Liberation Serif", serif' font-weight="normal" font-style="normal" >9</text>
<text x="588.8" y="776.0" font-size="26.5" fill="#111" text-anchor="start" font-family='"Liberation Serif", serif' font-weight="normal" font-style="normal" textLength="51.3" lengthAdjust="spacingAndGlyphs" >A/m</text>
<text x="641.6" y="765.9" font-size="17.5" fill="#111" text-anchor="start" font-family='"Liberation Serif", serif' font-weight="normal" font-style="normal" >2</text>
<text x="652.6" y="775.8" font-size="22" fill="#111" text-anchor="start" font-family='"Liberation Sans", sans-serif' font-weight="normal" font-style="normal" >)</text>
<text transform="translate(274.8,616.2) rotate(-90)" x="0" y="0" font-size="22" fill="#111" font-family='"Liberation Sans", sans-serif' textLength="206.5" lengthAdjust="spacingAndGlyphs">Displacement (µm)</text>
<line x1="521.2" x2="521.2" y1="334.4" y2="462.2" stroke="#4f5af0" stroke-width="2.1" stroke-dasharray="2 3.3"/>
<line x1="571" x2="571" y1="464.2" y2="592.0" stroke="#e8893e" stroke-width="2.1" stroke-dasharray="2 3.3"/>
<line x1="346.8" x2="346.8" y1="426" y2="440.3" stroke="#222" stroke-width="1.3"/>
<line x1="344.4" x2="349.2" y1="426" y2="426" stroke="#222" stroke-width="1.3"/>
<line x1="344.4" x2="349.2" y1="440.3" y2="440.3" stroke="#222" stroke-width="1.3"/>
<line x1="371.7" x2="371.7" y1="424.2" y2="438.8" stroke="#222" stroke-width="1.3"/>
<line x1="369.3" x2="374.1" y1="424.2" y2="424.2" stroke="#222" stroke-width="1.3"/>
<line x1="369.3" x2="374.1" y1="438.8" y2="438.8" stroke="#222" stroke-width="1.3"/>
<line x1="396.6" x2="396.6" y1="422.3" y2="439.1" stroke="#222" stroke-width="1.3"/>
<line x1="394.2" x2="399.0" y1="422.3" y2="422.3" stroke="#222" stroke-width="1.3"/>
<line x1="394.2" x2="399.0" y1="439.1" y2="439.1" stroke="#222" stroke-width="1.3"/>
<line x1="421.5" x2="421.5" y1="429.5" y2="440" stroke="#222" stroke-width="1.3"/>
<line x1="419.1" x2="423.9" y1="429.5" y2="429.5" stroke="#222" stroke-width="1.3"/>
<line x1="419.1" x2="423.9" y1="440" y2="440" stroke="#222" stroke-width="1.3"/>
<line x1="446.4" x2="446.4" y1="428.1" y2="440" stroke="#222" stroke-width="1.3"/>
<line x1="444.0" x2="448.8" y1="428.1" y2="428.1" stroke="#222" stroke-width="1.3"/>
<line x1="444.0" x2="448.8" y1="440" y2="440" stroke="#222" stroke-width="1.3"/>
<line x1="471.3" x2="471.3" y1="411.2" y2="437.4" stroke="#222" stroke-width="1.3"/>
<line x1="468.9" x2="473.7" y1="411.2" y2="411.2" stroke="#222" stroke-width="1.3"/>
<line x1="468.9" x2="473.7" y1="437.4" y2="437.4" stroke="#222" stroke-width="1.3"/>
<line x1="496.2" x2="496.2" y1="419.9" y2="440.8" stroke="#222" stroke-width="1.3"/>
<line x1="493.8" x2="498.6" y1="419.9" y2="419.9" stroke="#222" stroke-width="1.3"/>
<line x1="493.8" x2="498.6" y1="440.8" y2="440.8" stroke="#222" stroke-width="1.3"/>
<line x1="521.1" x2="521.1" y1="424" y2="440" stroke="#222" stroke-width="1.3"/>
<line x1="518.7" x2="523.5" y1="424" y2="424" stroke="#222" stroke-width="1.3"/>
<line x1="518.7" x2="523.5" y1="440" y2="440" stroke="#222" stroke-width="1.3"/>
<line x1="546.0" x2="546.0" y1="396.6" y2="428.3" stroke="#222" stroke-width="1.3"/>
<line x1="543.6" x2="548.4" y1="396.6" y2="396.6" stroke="#222" stroke-width="1.3"/>
<line x1="543.6" x2="548.4" y1="428.3" y2="428.3" stroke="#222" stroke-width="1.3"/>
<line x1="570.9" x2="570.9" y1="387.9" y2="403.8" stroke="#222" stroke-width="1.3"/>
<line x1="568.5" x2="573.3" y1="387.9" y2="387.9" stroke="#222" stroke-width="1.3"/>
<line x1="568.5" x2="573.3" y1="403.8" y2="403.8" stroke="#222" stroke-width="1.3"/>
<line x1="595.8" x2="595.8" y1="379.1" y2="398.7" stroke="#222" stroke-width="1.3"/>
<line x1="593.4" x2="598.2" y1="379.1" y2="379.1" stroke="#222" stroke-width="1.3"/>
<line x1="593.4" x2="598.2" y1="398.7" y2="398.7" stroke="#222" stroke-width="1.3"/>
<line x1="620.7" x2="620.7" y1="374.5" y2="396.8" stroke="#222" stroke-width="1.3"/>
<line x1="618.3" x2="623.1" y1="374.5" y2="374.5" stroke="#222" stroke-width="1.3"/>
<line x1="618.3" x2="623.1" y1="396.8" y2="396.8" stroke="#222" stroke-width="1.3"/>
<line x1="645.6" x2="645.6" y1="375.3" y2="417.3" stroke="#222" stroke-width="1.3"/>
<line x1="643.2" x2="648.0" y1="375.3" y2="375.3" stroke="#222" stroke-width="1.3"/>
<line x1="643.2" x2="648.0" y1="417.3" y2="417.3" stroke="#222" stroke-width="1.3"/>
<line x1="670.5" x2="670.5" y1="342.6" y2="388.2" stroke="#222" stroke-width="1.3"/>
<line x1="668.1" x2="672.9" y1="342.6" y2="342.6" stroke="#222" stroke-width="1.3"/>
<line x1="668.1" x2="672.9" y1="388.2" y2="388.2" stroke="#222" stroke-width="1.3"/>
<rect x="341.3" y="430.8" width="11" height="7.7" fill="#6672f6"/>
<rect x="366.2" y="430.3" width="11" height="8.2" fill="#6672f6"/>
<rect x="391.1" y="426" width="11" height="5.5" fill="#6672f6"/>
<rect x="416.0" y="430" width="11" height="8.5" fill="#6672f6"/>
<rect x="440.9" y="433.1" width="11" height="6.7" fill="#6672f6"/>
<rect x="465.8" y="425.2" width="11" height="9.8" fill="#6672f6"/>
<rect x="490.7" y="428.7" width="11" height="12.1" fill="#6672f6"/>
<rect x="515.6" y="433" width="11" height="7.0" fill="#6672f6"/>
<rect x="540.5" y="407.4" width="11" height="15.1" fill="#6672f6"/>
<rect x="565.4" y="391.8" width="11" height="5.1" fill="#6672f6"/>
<rect x="590.3" y="385.3" width="11" height="10.5" fill="#6672f6"/>
<rect x="615.2" y="381.6" width="11" height="10.0" fill="#6672f6"/>
<rect x="640.1" y="390.1" width="11" height="17.1" fill="#6672f6"/>
<rect x="665.0" y="356.3" width="11" height="12.7" fill="#6672f6"/>
<polyline points="346.8,436.3 371.7,434.1 396.6,429 421.5,435.6 446.4,437.4 471.3,432.5 496.2,438.9 521.1,438.9 546.0,413.7 570.9,395.5 595.8,391.8 620.7,389.3 645.6,396.4 670.5,363.5" fill="none" stroke="#6a74f4" stroke-width="1.4"/>
<circle cx="346.8" cy="436.3" r="3.2" fill="#000"/>
<circle cx="371.7" cy="434.1" r="3.2" fill="#000"/>
<circle cx="396.6" cy="429" r="3.2" fill="#000"/>
<circle cx="421.5" cy="435.6" r="3.2" fill="#000"/>
<circle cx="446.4" cy="437.4" r="3.2" fill="#000"/>
<circle cx="471.3" cy="432.5" r="3.2" fill="#000"/>
<circle cx="496.2" cy="438.9" r="3.2" fill="#000"/>
<circle cx="496.2" cy="408.2" r="2" fill="#fff" stroke="#222" stroke-width="1"/>
<circle cx="521.1" cy="438.9" r="3.2" fill="#000"/>
<circle cx="521.1" cy="421.8" r="2" fill="#fff" stroke="#222" stroke-width="1"/>
<circle cx="546.0" cy="413.7" r="3.2" fill="#000"/>
<circle cx="570.9" cy="395.5" r="3.2" fill="#000"/>
<circle cx="570.9" cy="411.2" r="2" fill="#fff" stroke="#222" stroke-width="1"/>
<circle cx="595.8" cy="391.8" r="3.2" fill="#000"/>
<circle cx="595.8" cy="411.5" r="2" fill="#fff" stroke="#222" stroke-width="1"/>
<circle cx="595.8" cy="414.5" r="2" fill="#fff" stroke="#222" stroke-width="1"/>
<circle cx="620.7" cy="389.3" r="3.2" fill="#000"/>
<circle cx="645.6" cy="396.4" r="3.2" fill="#000"/>
<circle cx="670.5" cy="363.5" r="3.2" fill="#000"/>
<line x1="346.8" x2="346.8" y1="558" y2="569.4" stroke="#222" stroke-width="1.3"/>
<line x1="344.4" x2="349.2" y1="558" y2="558" stroke="#222" stroke-width="1.3"/>
<line x1="344.4" x2="349.2" y1="569.4" y2="569.4" stroke="#222" stroke-width="1.3"/>
<line x1="371.7" x2="371.7" y1="557.3" y2="570.6" stroke="#222" stroke-width="1.3"/>
<line x1="369.3" x2="374.1" y1="557.3" y2="557.3" stroke="#222" stroke-width="1.3"/>
<line x1="369.3" x2="374.1" y1="570.6" y2="570.6" stroke="#222" stroke-width="1.3"/>
<line x1="396.6" x2="396.6" y1="558" y2="569.4" stroke="#222" stroke-width="1.3"/>
<line x1="394.2" x2="399.0" y1="558" y2="558" stroke="#222" stroke-width="1.3"/>
<line x1="394.2" x2="399.0" y1="569.4" y2="569.4" stroke="#222" stroke-width="1.3"/>
<line x1="421.5" x2="421.5" y1="555.8" y2="567.2" stroke="#222" stroke-width="1.3"/>
<line x1="419.1" x2="423.9" y1="555.8" y2="555.8" stroke="#222" stroke-width="1.3"/>
<line x1="419.1" x2="423.9" y1="567.2" y2="567.2" stroke="#222" stroke-width="1.3"/>
<line x1="446.4" x2="446.4" y1="554.2" y2="570" stroke="#222" stroke-width="1.3"/>
<line x1="444.0" x2="448.8" y1="554.2" y2="554.2" stroke="#222" stroke-width="1.3"/>
<line x1="444.0" x2="448.8" y1="570" y2="570" stroke="#222" stroke-width="1.3"/>
<line x1="471.3" x2="471.3" y1="550.1" y2="570.6" stroke="#222" stroke-width="1.3"/>
<line x1="468.9" x2="473.7" y1="550.1" y2="550.1" stroke="#222" stroke-width="1.3"/>
<line x1="468.9" x2="473.7" y1="570.6" y2="570.6" stroke="#222" stroke-width="1.3"/>
<line x1="496.2" x2="496.2" y1="542.1" y2="565.5" stroke="#222" stroke-width="1.3"/>
<line x1="493.8" x2="498.6" y1="542.1" y2="542.1" stroke="#222" stroke-width="1.3"/>
<line x1="493.8" x2="498.6" y1="565.5" y2="565.5" stroke="#222" stroke-width="1.3"/>
<line x1="521.1" x2="521.1" y1="537.4" y2="569.9" stroke="#222" stroke-width="1.3"/>
<line x1="518.7" x2="523.5" y1="537.4" y2="537.4" stroke="#222" stroke-width="1.3"/>
<line x1="518.7" x2="523.5" y1="569.9" y2="569.9" stroke="#222" stroke-width="1.3"/>
<line x1="546.0" x2="546.0" y1="549.5" y2="570.5" stroke="#222" stroke-width="1.3"/>
<line x1="543.6" x2="548.4" y1="549.5" y2="549.5" stroke="#222" stroke-width="1.3"/>
<line x1="543.6" x2="548.4" y1="570.5" y2="570.5" stroke="#222" stroke-width="1.3"/>
<line x1="570.9" x2="570.9" y1="521.9" y2="570.5" stroke="#222" stroke-width="1.3"/>
<line x1="568.5" x2="573.3" y1="521.9" y2="521.9" stroke="#222" stroke-width="1.3"/>
<line x1="568.5" x2="573.3" y1="570.5" y2="570.5" stroke="#222" stroke-width="1.3"/>
<line x1="595.8" x2="595.8" y1="514.6" y2="569" stroke="#222" stroke-width="1.3"/>
<line x1="593.4" x2="598.2" y1="514.6" y2="514.6" stroke="#222" stroke-width="1.3"/>
<line x1="593.4" x2="598.2" y1="569" y2="569" stroke="#222" stroke-width="1.3"/>
<line x1="620.7" x2="620.7" y1="493.3" y2="570.5" stroke="#222" stroke-width="1.3"/>
<line x1="618.3" x2="623.1" y1="493.3" y2="493.3" stroke="#222" stroke-width="1.3"/>
<line x1="618.3" x2="623.1" y1="570.5" y2="570.5" stroke="#222" stroke-width="1.3"/>
<line x1="645.6" x2="645.6" y1="502.5" y2="570.5" stroke="#222" stroke-width="1.3"/>
<line x1="643.2" x2="648.0" y1="502.5" y2="502.5" stroke="#222" stroke-width="1.3"/>
<line x1="643.2" x2="648.0" y1="570.5" y2="570.5" stroke="#222" stroke-width="1.3"/>
<line x1="670.5" x2="670.5" y1="486.6" y2="528" stroke="#222" stroke-width="1.3"/>
<line x1="668.1" x2="672.9" y1="486.6" y2="486.6" stroke="#222" stroke-width="1.3"/>
<line x1="668.1" x2="672.9" y1="528" y2="528" stroke="#222" stroke-width="1.3"/>
<rect x="341.3" y="559.9" width="11" height="9.8" fill="#e9a263"/>
<rect x="366.2" y="559.9" width="11" height="9.2" fill="#e9a263"/>
<rect x="391.1" y="562.4" width="11" height="7.0" fill="#e9a263"/>
<rect x="416.0" y="558.9" width="11" height="4.7" fill="#e9a263"/>
<rect x="440.9" y="557.2" width="11" height="5.4" fill="#e9a263"/>
<rect x="465.8" y="553.5" width="11" height="8.3" fill="#e9a263"/>
<rect x="490.7" y="549.1" width="11" height="10.2" fill="#e9a263"/>
<rect x="515.6" y="552" width="11" height="12.5" fill="#e9a263"/>
<rect x="540.5" y="557.1" width="11" height="10.9" fill="#e9a263"/>
<rect x="565.4" y="544.2" width="11" height="25.1" fill="#e9a263"/>
<rect x="590.3" y="523.7" width="11" height="19.5" fill="#e9a263"/>
<rect x="615.2" y="519.2" width="11" height="49.8" fill="#e9a263"/>
<rect x="640.1" y="505.5" width="11" height="63.5" fill="#e9a263"/>
<rect x="665.0" y="498.3" width="11" height="14.1" fill="#e9a263"/>
<polyline points="346.8,566.9 371.7,566.9 396.6,566.9 421.5,560.7 446.4,560.1 471.3,558.9 496.2,554.2 521.1,560.1 546.0,563.2 570.9,560.5 595.8,535.4 620.7,537.4 645.6,520 670.5,504.5" fill="none" stroke="#eea66a" stroke-width="1.4"/>
<circle cx="346.8" cy="566.9" r="3.2" fill="#000"/>
<circle cx="371.7" cy="566.9" r="3.2" fill="#000"/>
<circle cx="396.6" cy="566.9" r="3.2" fill="#000"/>
<circle cx="421.5" cy="560.7" r="3.2" fill="#000"/>
<path d="M421.5 567.5 L424.1 570.1 L421.5 572.7 L418.9 570.1 Z" fill="#fff" stroke="#222" stroke-width="1"/>
<circle cx="446.4" cy="560.1" r="3.2" fill="#000"/>
<circle cx="471.3" cy="558.9" r="3.2" fill="#000"/>
<circle cx="471.3" cy="531.6" r="2" fill="#fff" stroke="#222" stroke-width="1"/>
<circle cx="471.3" cy="541.4" r="2" fill="#fff" stroke="#222" stroke-width="1"/>
<circle cx="496.2" cy="554.2" r="3.2" fill="#000"/>
<circle cx="521.1" cy="560.1" r="3.2" fill="#000"/>
<circle cx="546.0" cy="563.2" r="3.2" fill="#000"/>
<circle cx="546.0" cy="533.6" r="2" fill="#fff" stroke="#222" stroke-width="1"/>
<circle cx="570.9" cy="560.5" r="3.2" fill="#000"/>
<circle cx="595.8" cy="535.4" r="3.2" fill="#000"/>
<circle cx="620.7" cy="537.4" r="3.2" fill="#000"/>
<circle cx="645.6" cy="520" r="3.2" fill="#000"/>
<circle cx="670.5" cy="504.5" r="3.2" fill="#000"/>
<line x1="346.8" x2="346.8" y1="689.4" y2="698" stroke="#222" stroke-width="1.3"/>
<line x1="344.4" x2="349.2" y1="689.4" y2="689.4" stroke="#222" stroke-width="1.3"/>
<line x1="344.4" x2="349.2" y1="698" y2="698" stroke="#222" stroke-width="1.3"/>
<line x1="371.7" x2="371.7" y1="688.7" y2="695.5" stroke="#222" stroke-width="1.3"/>
<line x1="369.3" x2="374.1" y1="688.7" y2="688.7" stroke="#222" stroke-width="1.3"/>
<line x1="369.3" x2="374.1" y1="695.5" y2="695.5" stroke="#222" stroke-width="1.3"/>
<line x1="396.6" x2="396.6" y1="688.5" y2="692" stroke="#222" stroke-width="1.3"/>
<line x1="394.2" x2="399.0" y1="688.5" y2="688.5" stroke="#222" stroke-width="1.3"/>
<line x1="394.2" x2="399.0" y1="692" y2="692" stroke="#222" stroke-width="1.3"/>
<line x1="421.5" x2="421.5" y1="687.5" y2="690.5" stroke="#222" stroke-width="1.3"/>
<line x1="419.1" x2="423.9" y1="687.5" y2="687.5" stroke="#222" stroke-width="1.3"/>
<line x1="419.1" x2="423.9" y1="690.5" y2="690.5" stroke="#222" stroke-width="1.3"/>
<line x1="446.4" x2="446.4" y1="687" y2="690.5" stroke="#222" stroke-width="1.3"/>
<line x1="444.0" x2="448.8" y1="687" y2="687" stroke="#222" stroke-width="1.3"/>
<line x1="444.0" x2="448.8" y1="690.5" y2="690.5" stroke="#222" stroke-width="1.3"/>
<line x1="471.3" x2="471.3" y1="685.3" y2="690.4" stroke="#222" stroke-width="1.3"/>
<line x1="468.9" x2="473.7" y1="685.3" y2="685.3" stroke="#222" stroke-width="1.3"/>
<line x1="468.9" x2="473.7" y1="690.4" y2="690.4" stroke="#222" stroke-width="1.3"/>
<line x1="496.2" x2="496.2" y1="682" y2="694.7" stroke="#222" stroke-width="1.3"/>
<line x1="493.8" x2="498.6" y1="682" y2="682" stroke="#222" stroke-width="1.3"/>
<line x1="493.8" x2="498.6" y1="694.7" y2="694.7" stroke="#222" stroke-width="1.3"/>
<line x1="521.1" x2="521.1" y1="679.7" y2="692.3" stroke="#222" stroke-width="1.3"/>
<line x1="518.7" x2="523.5" y1="679.7" y2="679.7" stroke="#222" stroke-width="1.3"/>
<line x1="518.7" x2="523.5" y1="692.3" y2="692.3" stroke="#222" stroke-width="1.3"/>
<line x1="546.0" x2="546.0" y1="679.7" y2="690.2" stroke="#222" stroke-width="1.3"/>
<line x1="543.6" x2="548.4" y1="679.7" y2="679.7" stroke="#222" stroke-width="1.3"/>
<line x1="543.6" x2="548.4" y1="690.2" y2="690.2" stroke="#222" stroke-width="1.3"/>
<line x1="570.9" x2="570.9" y1="673.4" y2="699.1" stroke="#222" stroke-width="1.3"/>
<line x1="568.5" x2="573.3" y1="673.4" y2="673.4" stroke="#222" stroke-width="1.3"/>
<line x1="568.5" x2="573.3" y1="699.1" y2="699.1" stroke="#222" stroke-width="1.3"/>
<line x1="595.8" x2="595.8" y1="668.5" y2="691.4" stroke="#222" stroke-width="1.3"/>
<line x1="593.4" x2="598.2" y1="668.5" y2="668.5" stroke="#222" stroke-width="1.3"/>
<line x1="593.4" x2="598.2" y1="691.4" y2="691.4" stroke="#222" stroke-width="1.3"/>
<line x1="620.7" x2="620.7" y1="654" y2="699.1" stroke="#222" stroke-width="1.3"/>
<line x1="618.3" x2="623.1" y1="654" y2="654" stroke="#222" stroke-width="1.3"/>
<line x1="618.3" x2="623.1" y1="699.1" y2="699.1" stroke="#222" stroke-width="1.3"/>
<line x1="645.6" x2="645.6" y1="654.7" y2="695.6" stroke="#222" stroke-width="1.3"/>
<line x1="643.2" x2="648.0" y1="654.7" y2="654.7" stroke="#222" stroke-width="1.3"/>
<line x1="643.2" x2="648.0" y1="695.6" y2="695.6" stroke="#222" stroke-width="1.3"/>
<line x1="670.5" x2="670.5" y1="672.7" y2="693.3" stroke="#222" stroke-width="1.3"/>
<line x1="668.1" x2="672.9" y1="672.7" y2="672.7" stroke="#222" stroke-width="1.3"/>
<line x1="668.1" x2="672.9" y1="693.3" y2="693.3" stroke="#222" stroke-width="1.3"/>
<rect x="341.3" y="692.3" width="11" height="5.1" fill="#f0646e"/>
<rect x="366.2" y="690.6" width="11" height="4.7" fill="#f0646e"/>
<rect x="391.1" y="689.4" width="11" height="2.4" fill="#f0646e"/>
<rect x="416.0" y="688.2" width="11" height="2.0" fill="#f0646e"/>
<rect x="440.9" y="687.4" width="11" height="2.6" fill="#f0646e"/>
<rect x="465.8" y="686.5" width="11" height="3.5" fill="#f0646e"/>
<rect x="490.7" y="685.3" width="11" height="5.1" fill="#f0646e"/>
<rect x="515.6" y="682.6" width="11" height="6.3" fill="#f0646e"/>
<rect x="540.5" y="683.9" width="11" height="4.0" fill="#f0646e"/>
<rect x="565.4" y="683.2" width="11" height="7.7" fill="#f0646e"/>
<rect x="590.3" y="674.6" width="11" height="15.2" fill="#f0646e"/>
<rect x="615.2" y="669.2" width="11" height="21.0" fill="#f0646e"/>
<rect x="640.1" y="673.9" width="11" height="14.0" fill="#f0646e"/>
<rect x="665.0" y="677.8" width="11" height="10.8" fill="#f0646e"/>
<polyline points="346.8,696.7 371.7,693.1 396.6,690.6 421.5,689.7 446.4,688.6 471.3,688.2 496.2,687 521.1,685.3 546.0,685.8 570.9,688.4 595.8,686.3 620.7,683.7 645.6,680.9 670.5,685.8" fill="none" stroke="#f06670" stroke-width="1.4"/>
<circle cx="346.8" cy="696.7" r="3.2" fill="#000"/>
<circle cx="371.7" cy="693.1" r="3.2" fill="#000"/>
<path d="M371.7 674.0 L374.3 676.6 L371.7 679.2 L369.1 676.6 Z" fill="#fff" stroke="#222" stroke-width="1"/>
<circle cx="396.6" cy="690.6" r="3.2" fill="#000"/>
<path d="M396.6 679.2 L399.2 681.8 L396.6 684.4 L394.0 681.8 Z" fill="#fff" stroke="#222" stroke-width="1"/>
<circle cx="421.5" cy="689.7" r="3.2" fill="#000"/>
<circle cx="421.5" cy="677.7" r="2" fill="#fff" stroke="#222" stroke-width="1"/>
<circle cx="421.5" cy="682.1" r="2" fill="#fff" stroke="#222" stroke-width="1"/>
<circle cx="446.4" cy="688.6" r="3.2" fill="#000"/>
<circle cx="446.4" cy="675.8" r="2" fill="#fff" stroke="#222" stroke-width="1"/>
<circle cx="446.4" cy="680.6" r="2" fill="#fff" stroke="#222" stroke-width="1"/>
<circle cx="471.3" cy="688.2" r="3.2" fill="#000"/>
<circle cx="471.3" cy="677.2" r="2" fill="#fff" stroke="#222" stroke-width="1"/>
<circle cx="471.3" cy="696.9" r="2" fill="#fff" stroke="#222" stroke-width="1"/>
<circle cx="496.2" cy="687" r="3.2" fill="#000"/>
<circle cx="496.2" cy="698.1" r="2" fill="#fff" stroke="#222" stroke-width="1"/>
<circle cx="496.2" cy="699.9" r="2" fill="#fff" stroke="#222" stroke-width="1"/>
<circle cx="521.1" cy="685.3" r="3.2" fill="#000"/>
<circle cx="521.1" cy="661.5" r="2" fill="#fff" stroke="#222" stroke-width="1"/>
<circle cx="521.1" cy="700.1" r="2" fill="#fff" stroke="#222" stroke-width="1"/>
<circle cx="546.0" cy="685.8" r="3.2" fill="#000"/>
<circle cx="570.9" cy="688.4" r="3.2" fill="#000"/>
<circle cx="595.8" cy="686.3" r="3.2" fill="#000"/>
<circle cx="620.7" cy="683.7" r="3.2" fill="#000"/>
<circle cx="645.6" cy="680.9" r="3.2" fill="#000"/>
<circle cx="670.5" cy="685.8" r="3.2" fill="#000"/>
<text x="335.8" y="358.2" font-size="22" fill="#5454f6" text-anchor="start" font-family='"Liberation Sans", sans-serif' font-weight="normal" font-style="normal" textLength="145.9" lengthAdjust="spacingAndGlyphs" >Without laser</text>
<text x="335.2" y="488.2" font-size="22" fill="#e97b2c" text-anchor="start" font-family='"Liberation Sans", sans-serif' font-weight="normal" font-style="normal" textLength="135" lengthAdjust="spacingAndGlyphs" >P = 4.14 mW</text>
<text x="335.2" y="617.6" font-size="22" fill="#f0323f" text-anchor="start" font-family='"Liberation Sans", sans-serif' font-weight="normal" font-style="normal" textLength="135" lengthAdjust="spacingAndGlyphs" >P = 5.06 mW</text>
</svg>
</body></html>
